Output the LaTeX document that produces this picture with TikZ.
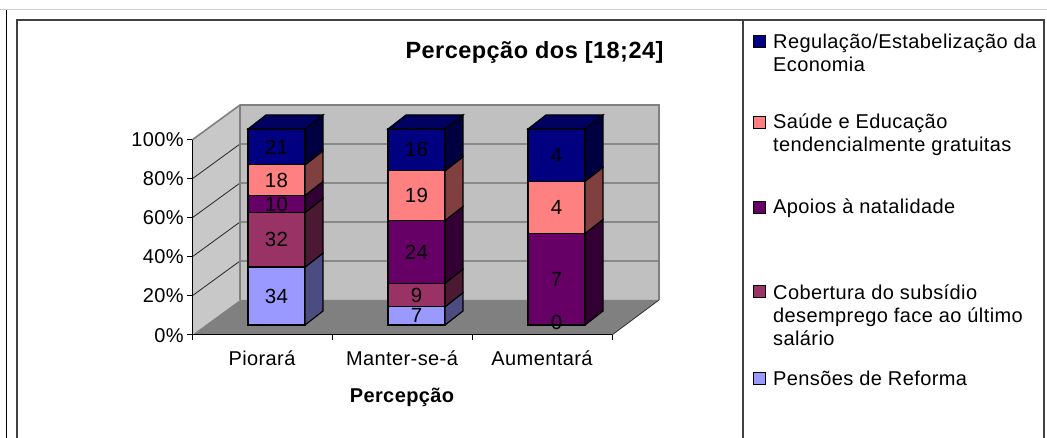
\documentclass[tikz,border=0pt]{standalone}
\usepackage{fontspec}
\setmainfont{Liberation Sans}[LetterSpace=2]
\usetikzlibrary{positioning}

\definecolor{regul}{HTML}{000080}
\definecolor{saude}{HTML}{FF8080}
\definecolor{apoio}{HTML}{660066}
\definecolor{cobert}{HTML}{993366}
\definecolor{pensao}{HTML}{9999FF}
\definecolor{backwall}{HTML}{C0C0C0}
\definecolor{sidewall}{HTML}{C8C8C8}
\definecolor{floorgray}{HTML}{808080}

\tikzset{
  segline/.style={draw=black, line width=1.2pt},
  walledge/.style={draw=floorgray, line width=1.6pt},
  gridline/.style={draw=black!85, line width=0.8pt},
  vallabel/.style={font=\fontsize{20.5}{20.5}\selectfont, inner sep=0pt},
  ticklabel/.style={font=\fontsize{20}{20}\selectfont, inner sep=0pt},
  legtext/.style={font=\fontsize{20}{23}\selectfont, align=left, anchor=west, inner sep=0pt},
  legkey/.style={draw=black, line width=1pt, minimum size=12pt, inner sep=0pt},
}

\begin{document}
\begin{tikzpicture}[x=1pt,y=-1pt]
  \useasboundingbox (0,0) rectangle (1047,438);
  % frames
  \draw[black!20, line width=1pt] (0,10) -- (1047,10);
  \draw[black, line width=1pt] (6.5,10) -- (6.5,438);
  \draw[black!75, line width=1.6pt] (17,438) -- (17,20) -- (1044,20) -- (1044,438);
  \draw[black!75, line width=1.6pt] (743,20) -- (743,438);

  % walls and floor
  \fill[sidewall] (192,335) -- (240,300) -- (240,105) -- (192,140) -- cycle;
  \fill[backwall] (240,105) rectangle (659,300);
  \fill[floorgray] (192,335) -- (240,300) -- (659,300) -- (612,335) -- cycle;
  \foreach \k in {1,...,4}
    \draw[gridline] (192,{335-39*\k}) -- (240,{300-39*\k}) -- (659,{300-39*\k});
  \draw[walledge] (192,140) -- (240,105) -- (659,105) -- (659,300);
  \draw[walledge] (240,105) -- (240,300);
  \draw[black!80, line width=0.8pt] (612,335) -- (659,300);

  % axes
  \draw[black, line width=1pt] (192,140) -- (192,335) -- (612,335);
  \foreach \k/\txt in {0/0\%,1/20\%,2/40\%,3/60\%,4/80\%,5/100\%} {
    \draw[black, line width=1pt] (187,{335-39*\k}) -- (192,{335-39*\k});
    \node[ticklabel, anchor=base east] (tick\k) at (184,{342-39*\k}) {\txt};
  }
  \foreach \x in {192,332,472,612}
    \draw[black, line width=1pt] (\x,335) -- (\x,340);

  % bars
  \foreach \x/\lo/\hi/\col/\val [count=\i] in {
      248/325/267.1/pensao/34, 248/267.1/212.5/cobert/32, 248/212.5/195.5/apoio/10,
      248/195.5/164.8/saude/18, 248/164.8/129/regul/21,
      388/325/306.7/pensao/7, 388/306.7/283.2/cobert/9, 388/283.2/220.5/apoio/24,
      388/220.5/170.8/saude/19, 388/170.8/129/regul/16,
      528/325/233.5/apoio/7, 528/233.5/181.3/saude/4, 528/181.3/129/regul/4} {
    \filldraw[segline, fill=\col] (\x,\lo) rectangle (\x+57,\hi);
    \filldraw[segline, fill=\col!50!black] (\x+57,\lo) -- (\x+75,\lo-14) -- (\x+75,\hi-14) -- (\x+57,\hi) -- cycle;
    \node[vallabel] (val\i) at (\x+28.5,{(\lo+\hi)/2}) {\val};
  }
  \foreach \x in {248,388,528}
    \filldraw[segline, fill=regul!75!black] (\x,129) -- (\x+18,115) -- (\x+75,115) -- (\x+57,129) -- cycle;
  \node[vallabel] (valzero) at (556.5,322) {0};

  % texts
  \node[font=\bfseries\fontsize{23.5}{23.5}\selectfont, inner sep=0pt, anchor=base] (title) at (534.5,59) {Percepção dos [18;24]};
  \node[ticklabel, anchor=base] (cat1) at (262,365) {Piorará};
  \node[ticklabel, anchor=base] (cat2) at (402,365) {Manter-se-á};
  \node[ticklabel, anchor=base] (cat3) at (542,365) {Aumentará};
  \node[ticklabel, font=\bfseries\fontsize{20}{20}\selectfont, anchor=base] (xtitle) at (402,402) {Percepção};

  % legend
  \node[legkey, fill=regul] (key1) at (759,42) {};
  \node[legtext] (leg1) at (773,53) {Regulação/Estabelização da\\Economia};
  \node[legkey, fill=saude] (key2) at (759,123) {};
  \node[legtext] (leg2) at (773,134.5) {Saúde e Educação\\tendencialmente gratuitas};
  \node[legkey, fill=apoio] (key3) at (759,208) {};
  \node[legtext] (leg3) at (773,208) {Apoios à natalidade};
  \node[legkey, fill=cobert] (key4) at (759,292) {};
  \node[legtext] (leg4) at (773,315) {Cobertura do subsídio\\desemprego face ao último\\salário};
  \node[legkey, fill=pensao] (key5) at (759,378) {};
  \node[legtext] (leg5) at (773,378) {Pensões de Reforma};
\end{tikzpicture}
\end{document}
